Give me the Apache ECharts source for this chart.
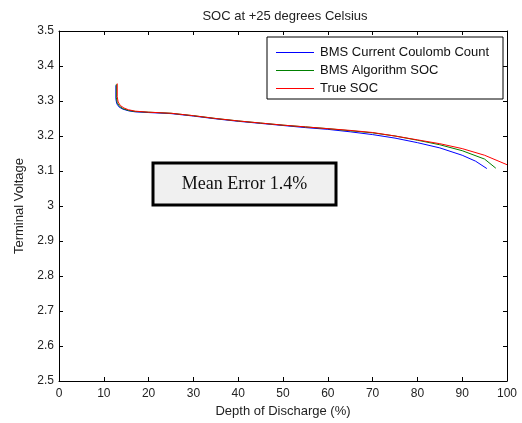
<!DOCTYPE html>
<html><head><meta charset="utf-8">
<script src="https://cdn.jsdelivr.net/npm/echarts@6/dist/echarts.min.js"></script>
<style>html,body{margin:0;padding:0;background:#fff}#c{width:522px;height:423px}</style>
</head><body><div id="c"></div>
<script>
var title = 'SOC at +25 degrees Celsius';
var seriesNames = ['BMS Current Coulomb Count', 'BMS Algorithm SOC', 'True SOC'];
var blueX = [12.7,12.7,12.9,13.4,14.2,15.5,17,20,25,30,35,40,45,50,55,60,65,70,75,80,85,90,93,95.5];
var blueY = [3.345,3.305,3.292,3.283,3.277,3.272,3.269,3.267,3.264,3.257,3.249,3.242,3.236,3.230,3.224,3.219,3.212,3.204,3.194,3.181,3.166,3.145,3.128,3.107];
var greenX = [12.8,12.8,13.0,13.5,14.3,15.5,17,20,25,30,35,40,45,50,55,60,65,70,75,80,85,90,95,97.5];
var greenY = [3.348,3.310,3.295,3.285,3.278,3.273,3.270,3.268,3.265,3.258,3.250,3.243,3.237,3.231,3.226,3.221,3.215,3.209,3.200,3.188,3.175,3.158,3.134,3.108];
var redX = [13.0,13.0,13.2,13.7,14.5,15.5,17,20,25,30,35,40,45,50,55,60,65,70,75,80,85,90,95,100];
var redY = [3.350,3.312,3.297,3.287,3.280,3.275,3.271,3.268,3.265,3.258,3.250,3.243,3.237,3.231,3.226,3.221,3.216,3.210,3.200,3.189,3.178,3.164,3.145,3.118];
var annotation = 'Mean Error 1.4%';
var colors = ['#0000ff', '#008000', '#ff0000'];

function pairs(xs, ys){ return xs.map(function(x,i){return [x, ys[i]];}); }
var font = 'Arial, "Liberation Sans", sans-serif';
var chart = echarts.init(document.getElementById('c'));
function axisCommon(show){
  return {
    axisLine:{show:true, onZero:false, lineStyle:{color:'#000', width:1}},
    axisTick:{show:true, inside:true, length:4, lineStyle:{color:'#000'}},
    axisLabel:{show:show, color:'#222', fontSize:12, fontFamily:font},
    splitLine:{show:false}
  };
}
var xb = Object.assign({type:'value', min:0, max:100, interval:10, position:'bottom',
  name:'Depth of Discharge (%)', nameLocation:'middle', nameGap:24,
  nameTextStyle:{color:'#222', fontSize:13, fontFamily:font}}, axisCommon(true));
xb.axisLabel.margin = 7;
var xt = Object.assign({type:'value', min:0, max:100, interval:10, position:'top'}, axisCommon(false));
var yl = Object.assign({type:'value', min:2.5, max:3.5, interval:0.1, position:'left',
  name:'Terminal Voltage', nameLocation:'middle', nameGap:22, nameRotate:90,
  nameTextStyle:{color:'#222', fontSize:13, fontFamily:font}}, axisCommon(true));
yl.axisLabel.formatter = function(v){ return String(Math.round(v*10)/10); };
yl.axisLabel.margin = 5;
var yr = Object.assign({type:'value', min:2.5, max:3.5, interval:0.1, position:'right'}, axisCommon(false));

function mk(i, xs, ys){
  return {name:seriesNames[i], type:'line', data:pairs(xs, ys), showSymbol:false, symbol:'none',
    itemStyle:{color:colors[i]}, lineStyle:{width:1, color:colors[i]}, xAxisIndex:0, yAxisIndex:0};
}

chart.setOption({
  animation:false,
  backgroundColor:'#fff',
  title:{text:title, left:280, textAlign:'center', top:5, textStyle:{fontSize:13, fontWeight:'normal', color:'#222', fontFamily:font}},
  grid:{left:59, right:15, top:31, bottom:40},
  xAxis:[xb, xt],
  yAxis:[yl, yr],
  legend:{
    orient:'vertical', left:267, top:37, width:234,
    data:seriesNames.map(function(n, i){ return {name:n, icon:'rect', itemStyle:{color:colors[i], borderWidth:0}}; }),
    itemWidth:38, itemHeight:1, itemGap:3,
    padding:[8,8,3,9],
    borderColor:'#000', borderWidth:1, backgroundColor:'#fff', borderRadius:0,
    textStyle:{fontSize:13, color:'#111', fontFamily:font, width:175, lineHeight:15, padding:[0,0,0,1]}
  },
  series:[ mk(0, blueX, blueY), mk(1, greenX, greenY), mk(2, redX, redY) ],
  graphic:[
    {type:'rect', shape:{x:153, y:163, width:183, height:42}, style:{fill:'#f0f0f0', stroke:'#000', lineWidth:3}, z:100},
    {type:'text', x:244.5, y:184, style:{text:annotation, fill:'#111', font:'18px "Liberation Serif", "Times New Roman", serif', textAlign:'center', textVerticalAlign:'middle'}, z:101}
  ]
});
</script></body></html>
